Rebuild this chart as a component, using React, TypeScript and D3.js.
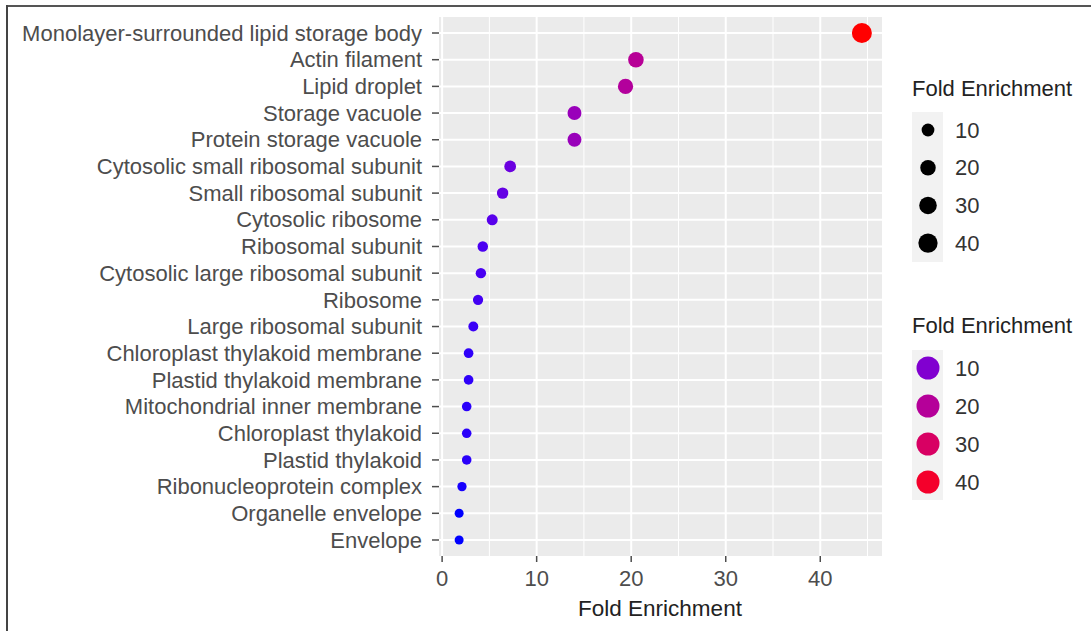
import React from "react";
import * as d3 from "d3";

const categories = [
  "Monolayer-surrounded lipid storage body",
  "Actin filament",
  "Lipid droplet",
  "Storage vacuole",
  "Protein storage vacuole",
  "Cytosolic small ribosomal subunit",
  "Small ribosomal subunit",
  "Cytosolic ribosome",
  "Ribosomal subunit",
  "Cytosolic large ribosomal subunit",
  "Ribosome",
  "Large ribosomal subunit",
  "Chloroplast thylakoid membrane",
  "Plastid thylakoid membrane",
  "Mitochondrial inner membrane",
  "Chloroplast thylakoid",
  "Plastid thylakoid",
  "Ribonucleoprotein complex",
  "Organelle envelope",
  "Envelope",
];

const foldEnrichment = [
  44.4, 20.5, 19.4, 14.0, 14.0, 7.2, 6.4, 5.3, 4.3, 4.1, 3.8, 3.3, 2.8, 2.8,
  2.6, 2.6, 2.6, 2.1, 1.8, 1.8,
];

const xTicks = [0, 10, 20, 30, 40];
const xMinor = [5, 15, 25, 35, 45];
const legendValues = [10, 20, 30, 40];

const W = 1091;
const H = 631;
const panel = { left: 439, right: 882, top: 17, bottom: 556 };
const FONT = "Liberation Sans, Arial, Helvetica, sans-serif";

export default function App() {
  const vMin = d3.min(foldEnrichment)!;
  const vMax = d3.max(foldEnrichment)!;
  const pad = (vMax - vMin) * 0.05;

  const x = d3
    .scaleLinear()
    .domain([vMin - pad, vMax + pad])
    .range([panel.left, panel.right]);

  const y = d3
    .scalePoint<string>()
    .domain(categories)
    .range([panel.top, panel.bottom])
    .padding(0.6);

  // point radius grows linearly with the square root of the value (area scale)
  const sizeScale = d3
    .scaleLinear()
    .domain([Math.sqrt(vMin), Math.sqrt(vMax)])
    .range([4.5, 10]);
  const r = (v: number) => sizeScale(Math.sqrt(v));

  const color = d3
    .scaleLinear<string>()
    .domain([vMin, vMax])
    .range(["#0000ff", "#ff0000"])
    .interpolate(d3.interpolateLab);

  const data = categories.map((c, i) => ({ c, v: foldEnrichment[i] }));

  const labelColor = "#4d4d4d";
  const fs = 22;

  return (
    <svg
      width={W}
      height={H}
      style={{ position: "absolute", left: 0, top: 0, background: "#fff" }}
      fontFamily={FONT}
    >
      {/* frame lines */}
      <line x1={6} x2={W} y1={6} y2={6} stroke="#555" strokeWidth={2} />
      <line x1={7} x2={7} y1={5} y2={H} stroke="#444" strokeWidth={2} />

      {/* panel */}
      <rect
        x={panel.left}
        y={panel.top}
        width={panel.right - panel.left}
        height={panel.bottom - panel.top}
        fill="#ebebeb"
      />
      {xMinor.map((t) => (
        <line
          key={"m" + t}
          x1={x(t)}
          x2={x(t)}
          y1={panel.top}
          y2={panel.bottom}
          stroke="#fff"
          strokeWidth={1}
        />
      ))}
      {xTicks.map((t) => (
        <line
          key={"g" + t}
          x1={x(t)}
          x2={x(t)}
          y1={panel.top}
          y2={panel.bottom}
          stroke="#fff"
          strokeWidth={2}
        />
      ))}
      {categories.map((c) => (
        <line
          key={"h" + c}
          x1={panel.left}
          x2={panel.right}
          y1={y(c)}
          y2={y(c)}
          stroke="#fff"
          strokeWidth={2}
        />
      ))}

      {/* points */}
      {data.map((d) => (
        <circle
          key={d.c}
          cx={x(d.v)}
          cy={y(d.c)}
          r={r(d.v)}
          fill={color(d.v)}
        />
      ))}

      {/* y axis */}
      {categories.map((c) => (
        <g key={"yl" + c}>
          <line
            x1={panel.left - 7}
            x2={panel.left}
            y1={y(c)}
            y2={y(c)}
            stroke="#4d4d4d"
            strokeWidth={1.5}
          />
          <text
            x={422}
            y={y(c)}
            dy="0.35em"
            textAnchor="end"
            fontSize={fs}
            fill={labelColor}
          >
            {c}
          </text>
        </g>
      ))}

      {/* x axis */}
      {xTicks.map((t) => (
        <g key={"xl" + t}>
          <line
            x1={x(t)}
            x2={x(t)}
            y1={panel.bottom}
            y2={panel.bottom + 6}
            stroke="#4d4d4d"
            strokeWidth={1.5}
          />
          <text
            x={x(t)}
            y={578}
            dy="0.35em"
            textAnchor="middle"
            fontSize={fs}
            fill={labelColor}
          >
            {t}
          </text>
        </g>
      ))}
      <text
        x={660}
        y={608}
        dy="0.35em"
        textAnchor="middle"
        fontSize={22.5}
        fill="#222"
      >
        Fold Enrichment
      </text>

      {/* size legend */}
      <text x={912} y={88} dy="0.35em" fontSize={22} fill="#222">
        Fold Enrichment
      </text>
      <rect x={912} y={112} width={31} height={150} fill="#f2f2f2" />
      {legendValues.map((v, i) => {
        const cy = 130 + i * 37.7;
        return (
          <g key={"ls" + v}>
            <circle cx={928} cy={cy} r={r(v)} fill="#000" />
            <text x={955} y={cy} dy="0.35em" fontSize={fs} fill="#333">
              {v}
            </text>
          </g>
        );
      })}

      {/* colour legend */}
      <text x={912} y={325} dy="0.35em" fontSize={22} fill="#222">
        Fold Enrichment
      </text>
      <rect x={912} y={350} width={31} height={150} fill="#f2f2f2" />
      {legendValues.map((v, i) => {
        const cy = 368 + i * 38;
        return (
          <g key={"lc" + v}>
            <circle cx={928} cy={cy} r={11.5} fill={color(v)} />
            <text x={955} y={cy} dy="0.35em" fontSize={fs} fill="#333">
              {v}
            </text>
          </g>
        );
      })}
    </svg>
  );
}
